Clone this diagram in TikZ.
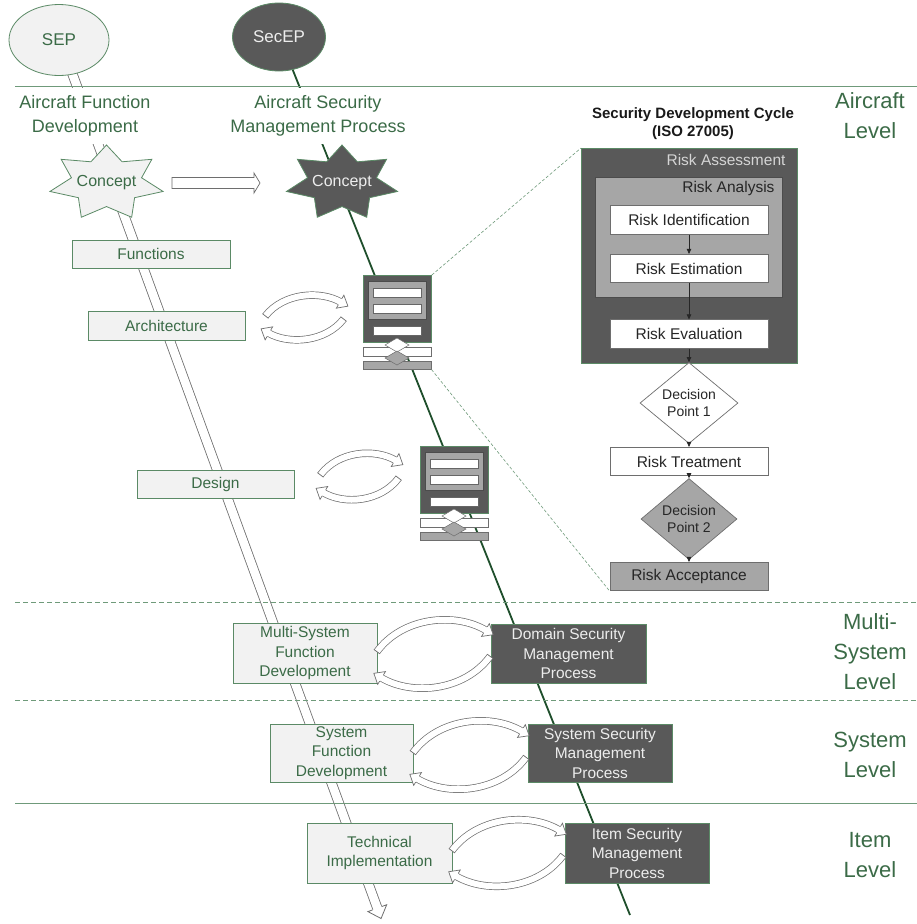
\documentclass[tikz,border=0pt]{standalone}
\usepackage{fontspec}
\setmainfont{Liberation Sans}
\usetikzlibrary{shapes.geometric,arrows.meta,decorations.markings,calc}

\definecolor{gtext}{HTML}{3B6B47}
\definecolor{gborder}{HTML}{5B8A66}
\definecolor{lfill}{HTML}{F2F2F2}
\definecolor{dfill}{HTML}{595959}
\definecolor{mgray}{HTML}{A6A6A6}
\definecolor{agray}{HTML}{6E6E6E}
\definecolor{sline}{HTML}{1F4F2C}
\definecolor{hline}{HTML}{6F9A7A}
\definecolor{ltext}{HTML}{EDEDED}

\newcommand\fA{\fontsize{15.5}{19.5}\selectfont}

\tikzset{
  lbox/.style={draw=gborder, fill=lfill, text=gtext, font=\fA, align=center, inner sep=0pt, line width=0.8pt},
  dbox/.style={draw=gborder, fill=dfill, text=ltext, font=\fA, align=center, inner sep=0pt, line width=0.8pt},
  wbox/.style={draw=agray, fill=white, text=black!85, font=\fA, align=center, inner sep=0pt, line width=0.7pt, minimum width=158pt, minimum height=28.5pt},
  gbox/.style={wbox, fill=mgray},
  headtext/.style={fill=white, text=gtext, font=\fontsize{18}{24}\selectfont, align=center, minimum height=56pt, inner sep=1pt},
  lvl/.style={text=gtext, font=\fontsize{22}{30}\selectfont, align=center},
  flowarrow/.style={-{Triangle[length=5pt,width=4.5pt]}, black!85, line width=0.6pt},
  conndash/.style={hline, line width=0.6pt, dash pattern=on 3pt off 2pt},
  levelline/.style={hline, line width=0.8pt},
  lensshaft/.style={agray, line width=0.7pt, double=white, double distance=6pt},
  lensmark/.style={decorate, decoration={markings,
    mark=at position 0 with {\draw[agray, line width=0.7pt] (0pt,-3.7pt) -- (0pt,3.7pt);},
    mark=at position 0.999 with {\fill[white] (-1pt,-7.5pt) -- (8pt,0pt) -- (-1pt,7.5pt) -- cycle;
      \draw[agray, line width=0.7pt, line join=miter] (-1pt,-3.7pt) -- (-1pt,-7.5pt) -- (8pt,0pt) -- (-1pt,7.5pt) -- (-1pt,3.7pt);}}},
}

\newcommand\lensarrow[8]{%
  \draw[lensshaft] ({#1},{#2}) .. controls ({#3},{#4}) and ({#5},{#6}) .. ({#7},{#8});
  \path[lensmark] ({#1},{#2}) .. controls ({#3},{#4}) and ({#5},{#6}) .. ({#7},{#8});
}
\newcommand\lenspair[4]{%
  \lensarrow{#1+0.04*#3}{#2+0.47*#4}{#1+0.25*#3}{#2+0.02*#4}{#1+0.68*#3}{#2-0.04*#4}{#1+0.93*#3}{#2+0.2*#4}
  \lensarrow{#1+0.96*#3}{#2+0.53*#4}{#1+0.75*#3}{#2+0.98*#4}{#1+0.32*#3}{#2+1.04*#4}{#1+0.07*#3}{#2+0.8*#4}
}
% cx cy rx ry style
\newcommand\sevenstar[5]{%
  \draw[#5] plot[samples at={0,...,13}, variable=\k]
    ({#1+(#3*(1-mod(\k,2))+0.62*#3*mod(\k,2))*cos(90+25.7143*\k)},
     {#2-(#4*(1-mod(\k,2))+0.62*#4*mod(\k,2))*sin(90+25.7143*\k)}) -- cycle;
}
% name x y
\newcommand\secicon[3]{%
  \node[draw=gborder, fill=dfill, line width=0.8pt, minimum width=68pt, minimum height=67pt, inner sep=0pt, anchor=north west] (#1) at (#2,#3) {};
  \draw[fill=mgray, draw=black!70, line width=0.5pt] ({#2+5},{#3+6}) rectangle ({#2+63},{#3+44});
  \draw[fill=white, draw=black!60, line width=0.5pt] ({#2+10},{#3+13}) rectangle ({#2+58},{#3+22});
  \draw[fill=white, draw=black!60, line width=0.5pt] ({#2+10},{#3+29}) rectangle ({#2+58},{#3+38});
  \draw[fill=white, draw=black!60, line width=0.5pt] ({#2+10},{#3+51}) rectangle ({#2+58},{#3+60});
  \draw[fill=white, draw=agray, line width=0.5pt] ({#2},{#3+72}) rectangle ({#2+68},{#3+81});
  \node[draw=agray, fill=mgray, line width=0.5pt, minimum width=68pt, minimum height=8pt, inner sep=0pt, anchor=north west] (#1b) at (#2,{#3+86}) {};
  \draw[fill=white, draw=agray, line width=0.5pt] ({#2+34},{#3+63}) -- ({#2+46},{#3+70}) -- ({#2+34},{#3+77}) -- ({#2+22},{#3+70}) -- cycle;
  \draw[fill=mgray, draw=agray, line width=0.5pt] ({#2+34},{#3+76}) -- ({#2+46},{#3+83}) -- ({#2+34},{#3+90}) -- ({#2+22},{#3+83}) -- cycle;
}

\begin{document}
\begin{tikzpicture}[x=1pt,y=-1pt]
\useasboundingbox[fill=white] (0,0) rectangle (917,924);

% process lines
\coordinate (sepS) at (71,70);
\coordinate (sepE) at (378,910);
\draw[agray, line width=0.8pt, double=white, double distance=8.5pt] (sepS) -- (sepE);
\path[decorate, decoration={markings, mark=at position 0.999 with {\fill[white] (-1pt,-10pt) -- (10pt,0pt) -- (-1pt,10pt) -- cycle;
   \draw[agray, line width=0.8pt, line join=miter] (-1pt,-5pt) -- (-1pt,-10pt) -- (10pt,0pt) -- (-1pt,10pt) -- (-1pt,5pt);}}] (sepS) -- (sepE);
\coordinate (secS) at (292,68);
\coordinate (secE) at (630,915);
\draw[sline, line width=1.8pt] (secS) -- (secE);

% top ellipses
\node[ellipse, draw=gborder, fill=lfill, line width=0.8pt, minimum width=100pt, minimum height=71pt, text=gtext, font=\fontsize{17}{20}\selectfont] (sep) at (59,40) {SEP};
\node[ellipse, draw=gborder, fill=dfill, line width=0.8pt, minimum width=93pt, minimum height=68pt, text=ltext, font=\fontsize{17}{20}\selectfont] (secep) at (279,37) {SecEP};

% headings
\node[headtext] (hA) at (85,116) {Aircraft Function\\Development};
\node[headtext] (hB) at (318,116) {Aircraft Security\\Management Process};

% level lines
\draw[levelline] (15,86) -- (917,86);
\draw[levelline, dash pattern=on 5pt off 3pt] (15,602) -- (917,602);
\draw[levelline, dash pattern=on 5pt off 3pt] (15,700) -- (917,700);
\draw[levelline] (15,803) -- (917,803);

% concept stars
\sevenstar{106.5}{183}{58}{38}{draw=gborder, fill=lfill, line width=0.8pt}
\node[text=gtext, font=\fontsize{16}{19}\selectfont] (conA) at (106.5,183) {Concept};
\sevenstar{342}{183}{57}{38}{draw=gborder, fill=dfill, line width=0.8pt}
\node[text=ltext, font=\fontsize{16}{19}\selectfont] (conB) at (342,183) {Concept};
\draw[agray, fill=white, line width=0.7pt] (172,177.5) -- (254,177.5) -- (254,173) -- (260,183) -- (254,193) -- (254,188.5) -- (172,188.5) -- cycle;

% development boxes
\node[lbox, minimum width=158pt, minimum height=28pt] (fun) at (151,254) {Functions};
\node[lbox, minimum width=157pt, minimum height=29pt] (arch) at (166.5,325.5) {Architecture};
\node[lbox, minimum width=157pt, minimum height=28pt] (des) at (215.5,484) {Design};
\node[lbox, minimum width=144pt, minimum height=60pt] (msf) at (305,653) {Multi-System\\Function\\Development};
\node[dbox, minimum width=155pt, minimum height=59pt] (dsm) at (568.5,653.5) {Domain Security\\Management\\Process};
\node[lbox, minimum width=143pt, minimum height=58pt] (sfd) at (341.5,753) {System\\Function\\Development};
\node[dbox, minimum width=144pt, minimum height=58pt] (ssm) at (600,753) {System Security\\Management\\Process};
\node[lbox, minimum width=145pt, minimum height=60pt] (tim) at (379.5,853) {Technical\\Implementation};
\node[dbox, minimum width=144pt, minimum height=60pt] (ism) at (637,853) {Item Security\\Management\\Process};

% icons
\secicon{icA}{363}{275}
\secicon{icB}{420}{446}

% exchange arrows
\lenspair{262}{292}{85}{51}
\lenspair{317}{450}{85}{53}
\lenspair{372}{615}{123}{78}
\lenspair{408}{716}{123}{78}
\lenspair{447}{815}{121}{76}

% security development cycle
\node[font=\bfseries\fontsize{15}{18}\selectfont, align=center, text=black!90] (title) at (693,124) {Security Development Cycle\\(ISO 27005)};
\node[draw=gborder, fill=dfill, line width=0.8pt, minimum width=216pt, minimum height=215pt, inner sep=0pt, anchor=north west] (RA) at (581,148) {};
\node[text=ltext!90!black, font=\fA, anchor=east] (RAt) at (789,160) {Risk Assessment};
\node[draw=black!70, fill=mgray, line width=0.6pt, minimum width=187pt, minimum height=120pt, inner sep=0pt, anchor=north west] (RAn) at (595,177) {};
\node[text=black!85, font=\fA, anchor=east] (RAnt) at (778,188) {Risk Analysis};
\node[wbox] (RI) at (689,220) {Risk Identification};
\node[wbox] (RE) at (689,268.5) {Risk Estimation};
\node[wbox] (REv) at (689,334) {Risk Evaluation};
\node[diamond, draw=agray, fill=white, line width=0.7pt, minimum width=98pt, minimum height=58pt, inner sep=0pt, align=center, text=black!85, font=\fontsize{14}{17}\selectfont] (D1) at (689,403) {Decision\\Point 1};
\node[wbox] (RT) at (689,461.5) {Risk Treatment};
\node[diamond, draw=agray, fill=mgray, line width=0.7pt, minimum width=96pt, minimum height=58pt, inner sep=0pt, align=center, text=black!85, font=\fontsize{14}{17}\selectfont] (D2) at (689,519) {Decision\\Point 2};
\node[gbox] (RAc) at (689,576.5) {Risk Acceptance};
\draw[flowarrow] (RI) -- (RE);
\draw[flowarrow] (RE) -- (REv);
\draw[flowarrow] (REv) -- (D1);
\draw[flowarrow] (D1) -- (RT);
\draw[flowarrow] (RT) -- (D2);
\draw[flowarrow] (D2) -- (RAc);

% zoom connectors
\draw[conndash] (icA.north east) -- (RA.north west);
\draw[conndash] (icAb.south east) -- (RAc.south west);

% level labels
\node[lvl] (lvA) at (870,116) {Aircraft\\Level};
\node[lvl] (lvM) at (870,652) {Multi-\\System\\Level};
\node[lvl] (lvS) at (870,755) {System\\Level};
\node[lvl] (lvI) at (870,855) {Item\\Level};
\end{tikzpicture}
\end{document}
